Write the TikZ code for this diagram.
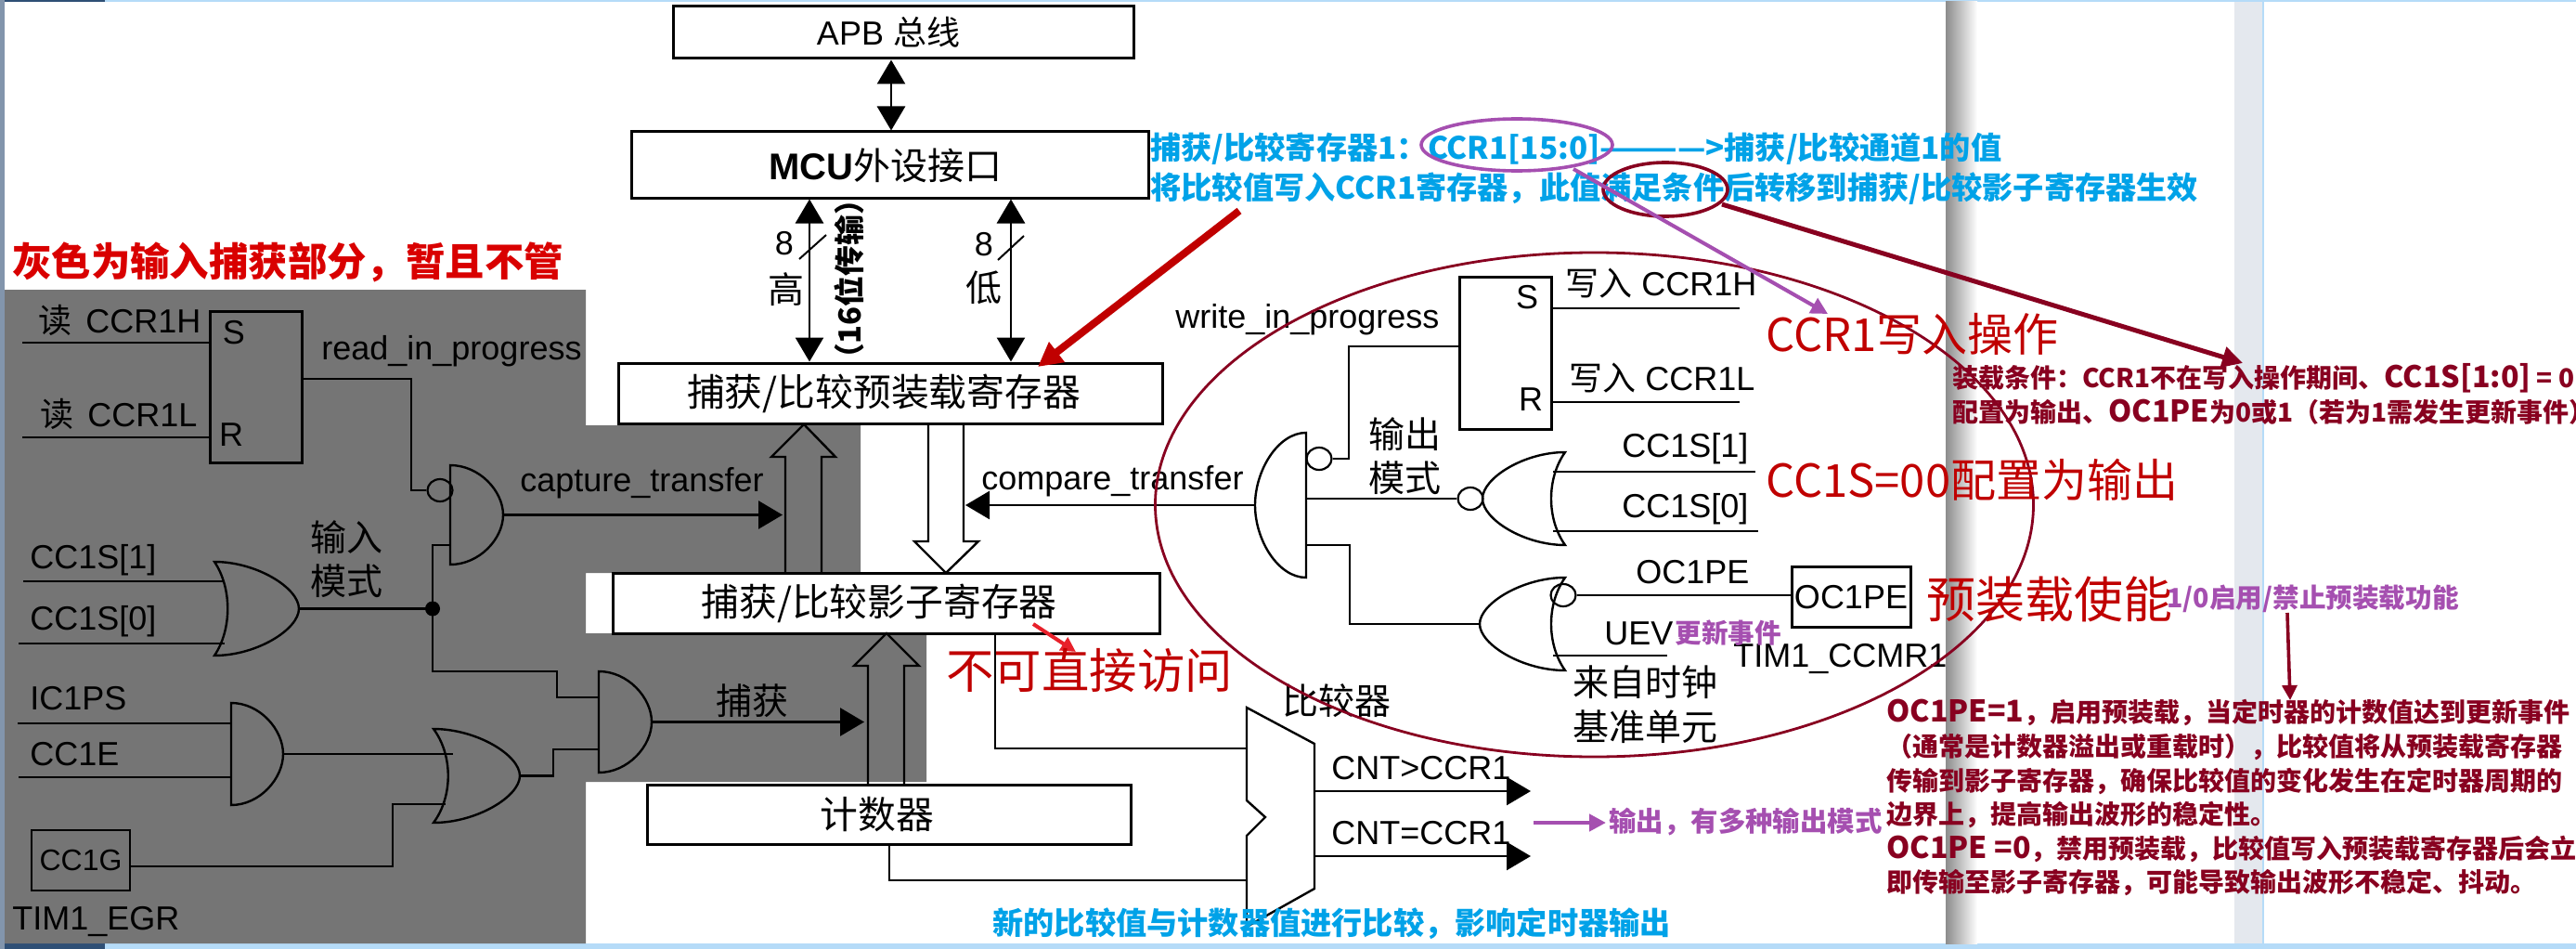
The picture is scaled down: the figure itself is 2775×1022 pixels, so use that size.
\documentclass[tikz,border=0pt]{standalone}
\usepackage{fontspec}
\setmainfont{Liberation Sans}
\newfontfamily\cjk{Noto Sans CJK SC}
\newfontfamily\cjkwide{Noto Sans CJK SC}[Scale=1.15]
\usetikzlibrary{arrows.meta,shapes.geometric,calc}
\definecolor{grayzone}{HTML}{757575}
\definecolor{annblue}{HTML}{00A2E8}
\definecolor{annred}{HTML}{C00000}
\definecolor{annpurple}{HTML}{A54FB0}
\definecolor{anndark}{HTML}{880020}
\definecolor{brightred}{HTML}{E8202A}
\definecolor{chromeblue}{HTML}{B5DBF8}
\definecolor{chromedark}{HTML}{2F4F75}
\definecolor{bandgray}{HTML}{E4E8EE}
\newcommand{\fsz}[1]{\fontsize{#1pt}{#1pt}\selectfont}
\newcommand{\lw}[1]{{\cjkwide #1}}
\tikzset{
  wire/.style={draw=black,line width=1.4pt},
  boxn/.style={draw=black,line width=1.5pt,inner sep=0pt,fill=white},
  gate/.style={draw=black,line width=1.2pt},
  tiplabel/.style={inner sep=0pt,font=\fsz{18}},
  cnlabel/.style={inner sep=0pt,font=\cjk\fsz{19.5}},
  boxtext/.style={inner sep=0pt,font=\cjk\fsz{20.4}},
  wlabel/.style={inner sep=0pt,anchor=west},
  harrow/.style={-{Triangle[length=13pt,width=15pt]},wire},
  bothway/.style={{Triangle[length=13pt,width=15pt]}-{Triangle[length=13pt,width=15pt]},wire},
  bluetxt/.style={wlabel,text=annblue,font=\cjk\bfseries\fsz{16.6}},
  redtxt/.style={wlabel,text=annred,font=\cjk\fsz{24.5}},
  purptxt/.style={wlabel,text=annpurple,font=\cjk\bfseries\fsz{14.3}},
  darktxt/.style={wlabel,text=anndark,font=\cjk\bfseries\fsz{14}},
}
\newcommand{\andg}[5]{% name xflat top bot xtip
  \draw[gate] (#2,#3) -- (#2,#4) .. controls ({#2+0.55*(#5-#2)},#4) and (#5,{(#3+#4)/2+0.24*(#4-#3)}) .. (#5,{(#3+#4)/2})
   .. controls (#5,{(#3+#4)/2-0.24*(#4-#3)}) and ({#2+0.55*(#5-#2)},#3) .. cycle;
  \coordinate (#1) at (#5,{(#3+#4)/2});}
\newcommand{\org}[6]{% name xback top bot xmid xtip
  \draw[gate] (#2,#3) .. controls ({#2+0.5*(#6-#2)},#3) and (#6,{(#3+#4)/2-0.22*(#4-#3)}) .. (#6,{(#3+#4)/2})
   .. controls (#6,{(#3+#4)/2+0.22*(#4-#3)}) and ({#2+0.5*(#6-#2)},#4) .. (#2,#4)
   .. controls (#5,{(#3+#4)/2+0.22*(#4-#3)}) and (#5,{(#3+#4)/2-0.22*(#4-#3)}) .. cycle;
  \coordinate (#1) at (#6,{(#3+#4)/2});}
\newcommand{\bubble}[3]{% name x y
  \node[draw=black,line width=1.1pt,ellipse,inner sep=0pt,minimum width=13.5pt,minimum height=12pt] (#1) at (#2,#3) {};}
\newcommand{\bx}[5]{% name x1 y1 x2 y2
  \node[boxn,minimum width={(#4-#2)*0.5pt},minimum height={(#5-#3)*0.5pt}] (#1) at ({(#2+#4)/2},{(#3+#5)/2}) {};}
\begin{document}
\begin{tikzpicture}[x=0.5pt,y=-0.5pt]
\useasboundingbox (0,0) rectangle (2775,1022);
\fill[white] (0,0) rectangle (2775,1022);
% window chrome
\fill[chromeblue] (0,0) rectangle (2775,2);
\fill[chromeblue] (0,1016) rectangle (2775,1022);
\fill[chromedark] (0,0) rectangle (113,2);
\fill[chromedark] (0,1016) rectangle (113,1022);
\fill[chromedark!60!white] (0,0) rectangle (5,1022);
\shade[left color=black!45,right color=white] (2096,2) rectangle (2130,1016);
\fill[bandgray] (2407,2) rectangle (2437,1016);
\fill[chromeblue] (2437,2) rectangle (2439,1016);
% grey input-capture zone
\fill[grayzone] (5,312) -- (631,312) -- (631,458) -- (927,458) -- (927,617) -- (631,617) -- (631,682) -- (998,682) -- (998,842) -- (631,842) -- (631,1016) -- (5,1016) -- cycle;
% ---------- boxes
\bx{apb}{725}{7}{1221}{63}
\node[inner sep=0pt,font=\fsz{18}] (apbt) at (957,35) {APB {\cjk 总线}};
\bx{mcu}{680}{142}{1237}{213}
\node[inner sep=0pt,font=\fsz{20}] (mcut) at (954,178) {\textbf{MCU}{\cjk 外设接口}};
\bx{pre}{666}{391}{1252}{456}
\node[boxtext] (pret) at (952,424) {捕获/比较预装载寄存器};
\bx{sha}{660}{617}{1249}{682}
\node[boxtext] (shat) at (947,650) {捕获/比较影子寄存器};
\bx{cnt}{697}{845}{1218}{909}
\node[boxtext] (cntt) at (945,877) {计数器};
% bus arrows
\coordinate (busx) at (960,100);
\coordinate (hix) at (872,300);
\coordinate (lox) at (1089,300);
\draw[bothway] (apb.south -| busx) -- (mcu.north -| busx);
\draw[bothway] (mcu.south -| hix) -- (pre.north -| hix);
\draw[bothway] (mcu.south -| lox) -- (pre.north -| lox);
\coordinate (s1a) at (861,279); \coordinate (s1b) at (890,253);
\coordinate (s2a) at (1075,280); \coordinate (s2b) at (1103,254);
\draw[line width=1pt] (s1a) -- (s1b);
\draw[line width=1pt] (s2a) -- (s2b);
\node[tiplabel] (n8a) at (845,262) {8};
\node[tiplabel] (n8b) at (1060,263) {8};
\node[cnlabel] (gao) at (847,312) {高};
\node[cnlabel] (di) at (1060,310) {低};
\node[cnlabel,rotate=90,font=\cjk\bfseries\fsz{16.4}] (b16) at (915,301) {（16位传输）};
% hollow arrows
\draw[gate] (846,617) -- (846,492) -- (831,492) -- (866,457) -- (900,492) -- (885,492) -- (885,617);
\draw[gate] (1000,456) -- (1000,583) -- (985,583) -- (1019,617) -- (1054,583) -- (1038,583) -- (1038,456);
\draw[gate] (935,845) -- (935,717) -- (920,717) -- (955,682) -- (990,717) -- (974,717) -- (974,845);
% ---------- left (input) circuit
\node[boxn,fill=none,minimum width=49.5pt,minimum height=81.5pt] (srl) at (275.5,416.5) {};
\node[tiplabel] (srls) at (252,358) {S};
\node[tiplabel] (srlr) at (249,468) {R};
\coordinate (l1) at (24,369); \coordinate (l2) at (24,471);
\draw[wire] (l1) -- (l1 -| srl.west);
\draw[wire] (l2) -- (l2 -| srl.west);
\node[wlabel,font=\fsz{18}] (rh) at (41,345) {{\cjk 读}\hspace{2.5pt} CCR1H};
\node[wlabel,font=\fsz{18}] (rl) at (43,446) {{\cjk 读}\hspace{2.5pt} CCR1L};
\node[wlabel,font=\fsz{18}] (rip) at (346,378) {read\_in\_progress};
\andg{and1}{485}{501}{608}{542}
\bubble{b1}{474}{528}
\coordinate (rp0) at (325,408); \coordinate (rp1) at (443,408);
\draw[wire] (rp0) -- (rp1) |- (b1.west);
\coordinate (captip) at (843,554.5);
\draw[harrow] (and1) -- (captip);
\node[wlabel,font=\fsz{18}] (capt) at (560,520) {capture\_transfer};
\andg{and3}{645}{723}{832}{702}
\org{or1}{231}{605}{706}{250}{322}
\coordinate (j) at (466,655.5);
\fill (j) circle (8);
\draw[wire] (or1) -- (j);
\coordinate (a1i) at (485,587); \coordinate (a1j) at (466,587);
\coordinate (a3c) at (600,723); \coordinate (a3d) at (600,751); \coordinate (a3e) at (645,751);
\draw[wire] (a1i) -- (a1j) -- (a3c -| a1j) -- (a3c) -- (a3d) -- (a3e);
\coordinate (o1a) at (25,626); \coordinate (o1b) at (242,626);
\coordinate (o1c) at (20,693); \coordinate (o1d) at (242,693);
\draw[wire] (o1a) -- (o1b); \draw[wire] (o1c) -- (o1d);
\node[wlabel,font=\fsz{18}] (cs1) at (32,603) {CC1S[1]};
\node[wlabel,font=\fsz{18}] (cs0) at (32,669) {CC1S[0]};
\node[cnlabel] (in1) at (373,579) {输入};
\node[cnlabel] (in2) at (373,626) {模式};
\andg{and2}{249}{757}{867}{305}
\coordinate (i1a) at (19,779); \coordinate (i1b) at (249,779);
\coordinate (i2a) at (20,837); \coordinate (i2b) at (249,837);
\draw[wire] (i1a) -- (i1b); \draw[wire] (i2a) -- (i2b);
\node[wlabel,font=\fsz{18}] (ic1) at (32,752) {IC1PS};
\node[wlabel,font=\fsz{18}] (cce) at (32,812) {CC1E};
\org{or2}{467}{785}{886}{488}{560}
\coordinate (o2in) at (488,812);
\draw[wire] (and2) -- (o2in);
\coordinate (o2x) at (596,835.5); \coordinate (o2y) at (596,807); \coordinate (o2z) at (645,807);
\draw[wire] (or2) -- (o2x) -- (o2y) -- (o2z);
\node[draw=black,line width=1.3pt,inner sep=0pt,minimum width=53pt,minimum height=32.5pt,font=\fsz{16}] (ccg) at (87,926.5) {CC1G};
\coordinate (gg1) at (423,933); \coordinate (gg2) at (423,866); \coordinate (gg3) at (480,866);
\draw[wire] (ccg.east |- gg1) -- (gg1) -- (gg2) -- (gg3);
\node[wlabel,font=\fsz{18}] (egr) at (13,993) {TIM1\_EGR};
\coordinate (buhuo) at (931,777.5);
\draw[harrow] (and3) -- (buhuo);
\node[cnlabel] (bh) at (810,755) {捕获};
% ---------- right (output) circuit
\bx{srr}{1572}{298}{1671}{462}
\node[tiplabel] (srrs) at (1645,320) {S};
\node[tiplabel] (srrr) at (1649,430) {R};
\coordinate (w1) at (1874,332); \coordinate (w2) at (1874,433);
\draw[wire] (srr.east |- w1) -- (w1);
\draw[wire] (srr.east |- w2) -- (w2);
\node[wlabel,font=\fsz{18}] (wh) at (1686,305) {{\cjk 写入} CCR1H};
\node[wlabel,font=\fsz{18}] (wl) at (1690,407) {{\cjk 写入} CCR1L};
\node[wlabel,font=\fsz{18}] (wip) at (1266,344) {write\_in\_progress};
\andg{and4}{1407}{466}{622}{1352}
\bubble{b4}{1421}{494}
\coordinate (wp0) at (1453,373);
\draw[wire] (srr.west |- wp0) -- (wp0) |- (b4.east);
\coordinate (cmptip) at (1040,544);
\draw[harrow] (and4) -- (cmptip);
\node[wlabel,font=\fsz{18}] (cmpt) at (1057,518) {compare\_transfer};
\node[cnlabel] (out1) at (1513,468) {输出};
\node[cnlabel] (out2) at (1513,515) {模式};
\org{nor1}{1686}{487}{587}{1666}{1597}
\bubble{b5}{1584}{537}
\coordinate (a4m) at (1407,537);
\draw[wire] (a4m) -- (b5.west);
\coordinate (n1a) at (1673,508); \coordinate (n1b) at (1891,508);
\coordinate (n1c) at (1673,572); \coordinate (n1d) at (1894,572);
\draw[wire] (n1a) -- (n1b); \draw[wire] (n1c) -- (n1d);
\node[wlabel,font=\fsz{18}] (ws1) at (1747,483) {CC1S[1]};
\node[wlabel,font=\fsz{18}] (ws0) at (1747,548) {CC1S[0]};
\org{nor2}{1686}{622}{722}{1666}{1594}
\coordinate (a4b) at (1407,587); \coordinate (a4c) at (1454,587); \coordinate (a4d) at (1454,672);
\draw[wire] (a4b) -- (a4c) -- (a4d) -- (nor2);
\bubble{b6}{1684}{641}
\bx{pe}{1930}{610}{2058}{675}
\node[inner sep=0pt,font=\fsz{18}] (pet) at (1994,643) {OC1PE};
\draw[wire] (b6.east) -- (b6.east -| pe.west);
\node[wlabel,font=\fsz{18}] (pel) at (1762,616) {OC1PE};
\coordinate (uv0) at (1673,706); \coordinate (uv1) at (1796,706);
\draw[wire] (uv0) -- (uv1);
\node[wlabel,font=\fsz{18}] (uev) at (1728,682) {UEV};
\node[wlabel,font=\fsz{18}] (ccm) at (1867,710) {TIM1\_CCMR1};
\node[cnlabel] (clk1) at (1772,735) {来自时钟};
\node[cnlabel] (clk2) at (1772,783) {基准单元};
% ---------- comparator
\draw[gate,fill=white] (1343,762) -- (1416,801) -- (1416,957) -- (1343,998) -- (1343,900) -- (1363,880) -- (1343,862) -- cycle;
\coordinate (c1) at (1072,806); \coordinate (c2) at (1343,806);
\draw[wire] (sha.south -| c1) -- (c1) -- (c2);
\coordinate (d0) at (958,948); \coordinate (d2) at (1343,948);
\draw[wire] (cnt.south -| d0) -- (d0) -- (d2);
\coordinate (q1a) at (1416,852); \coordinate (q1b) at (1649,852);
\coordinate (q2a) at (1416,922); \coordinate (q2b) at (1649,922);
\draw[harrow] (q1a) -- (q1b);
\draw[harrow] (q2a) -- (q2b);
\node[wlabel,font=\fsz{18}] (gt) at (1434,827) {CNT>CCR1};
\node[wlabel,font=\fsz{18}] (eq) at (1434,897) {CNT=CCR1};
\node[cnlabel] (cmpn) at (1440,755) {比较器};
% ---------- annotations
\node[draw=anndark,line width=1.4pt,ellipse,inner sep=0pt,minimum width=473pt,minimum height=271.5pt] (bigring) at (1717.5,543.5) {};
\node[bluetxt] (bl1) at (1239,160) {捕获/比较寄存器1：CCR1[15:0]————>捕获/比较通道1的值};
\node[bluetxt] (bl2) at (1239,203) {将比较值写入CCR1寄存器，此值满足条件后转移到捕获/比较影子寄存器生效};
\node[bluetxt] (bl3) at (1069,995) {新的比较值与计数器值进行比较，影响定时器输出};
\node[draw=annpurple,line width=1.8pt,ellipse,inner sep=0pt,minimum width=103pt,minimum height=28pt] (ring1) at (1634,156) {};
\node[draw=anndark,line width=1.8pt,ellipse,inner sep=0pt,minimum width=67pt,minimum height=29pt] (ring2) at (1794,204) {};
\coordinate (redtail) at (1335,227); \coordinate (redtip) at (1118,395);
\draw[annred,line width=4pt,-{Triangle[length=13pt,width=13pt]}] (redtail) -- (redtip);
\coordinate (pt1) at (1695,182); \coordinate (pt2) at (1969,338);
\draw[annpurple,line width=2pt,-{Triangle[length=9pt,width=9pt]}] (pt1) -- (pt2);
\coordinate (dt1) at (1855,220); \coordinate (dt2) at (2416,391);
\draw[anndark,line width=2.5pt,-{Triangle[length=11pt,width=11pt]}] (dt1) -- (dt2);
\coordinate (sr1) at (1113,672); \coordinate (sr2) at (1159,702);
\draw[brightred,line width=2pt,-{Triangle[length=8pt,width=8pt]}] (sr1) -- (sr2);
\coordinate (ot1) at (1652,886); \coordinate (ot2) at (1730,886);
\draw[annpurple,line width=2.2pt,-{Triangle[length=9pt,width=9pt]}] (ot1) -- (ot2);
\coordinate (vd1) at (2464,660); \coordinate (vd2) at (2467,754);
\draw[anndark,line width=1.8pt,-{Triangle[length=8pt,width=8pt]}] (vd1) -- (vd2);
\node[wlabel,text=red!85!black,font=\cjk\bfseries\fsz{21.2}] (grayt) at (13,282) {灰色为输入捕获部分，暂且不管};
\node[redtxt] (r1) at (1902,360) {CCR1写入操作};
\node[redtxt] (r2) at (1902,517) {CC1S=00配置为输出};
\node[redtxt,font=\cjk\fsz{26.5}] (r3) at (2075,645) {预装载使能};
\node[redtxt,font=\cjk\fsz{25.7}] (r4) at (1019,722) {不可直接访问};
\node[purptxt] (p1) at (1804,682) {更新事件};
\node[purptxt] (p2) at (2334,645) {1/0启用/禁止预装载功能};
\node[purptxt,font=\cjk\bfseries\fsz{14.7}] (p3) at (1733,885) {输出，有多种输出模式};
\node[darktxt] (d1) at (2103,407) {装载条件：CCR1不在写入操作期间、\lw{CC1S[1:0]} = 0};
\node[darktxt] (d2) at (2103,444) {配置为输出、\lw{OC1PE}为0或1（若为1需发生更新事件）};
\node[darktxt] (e1) at (2032,767) {\lw{OC1PE=1}，启用预装载，当定时器的计数值达到更新事件};
\node[darktxt] (e2) at (2032,805) {（通常是计数器溢出或重载时），比较值将从预装载寄存器};
\node[darktxt] (e3) at (2032,841.5) {传输到影子寄存器，确保比较值的变化发生在定时器周期的};
\node[darktxt] (e4) at (2032,878) {边界上，提高输出波形的稳定性。};
\node[darktxt] (e5) at (2032,914) {\lw{OC1PE =0}，禁用预装载，比较值写入预装载寄存器后会立};
\node[darktxt] (e6) at (2032,951) {即传输至影子寄存器，可能导致输出波形不稳定、抖动。};
\end{tikzpicture}
\end{document}
